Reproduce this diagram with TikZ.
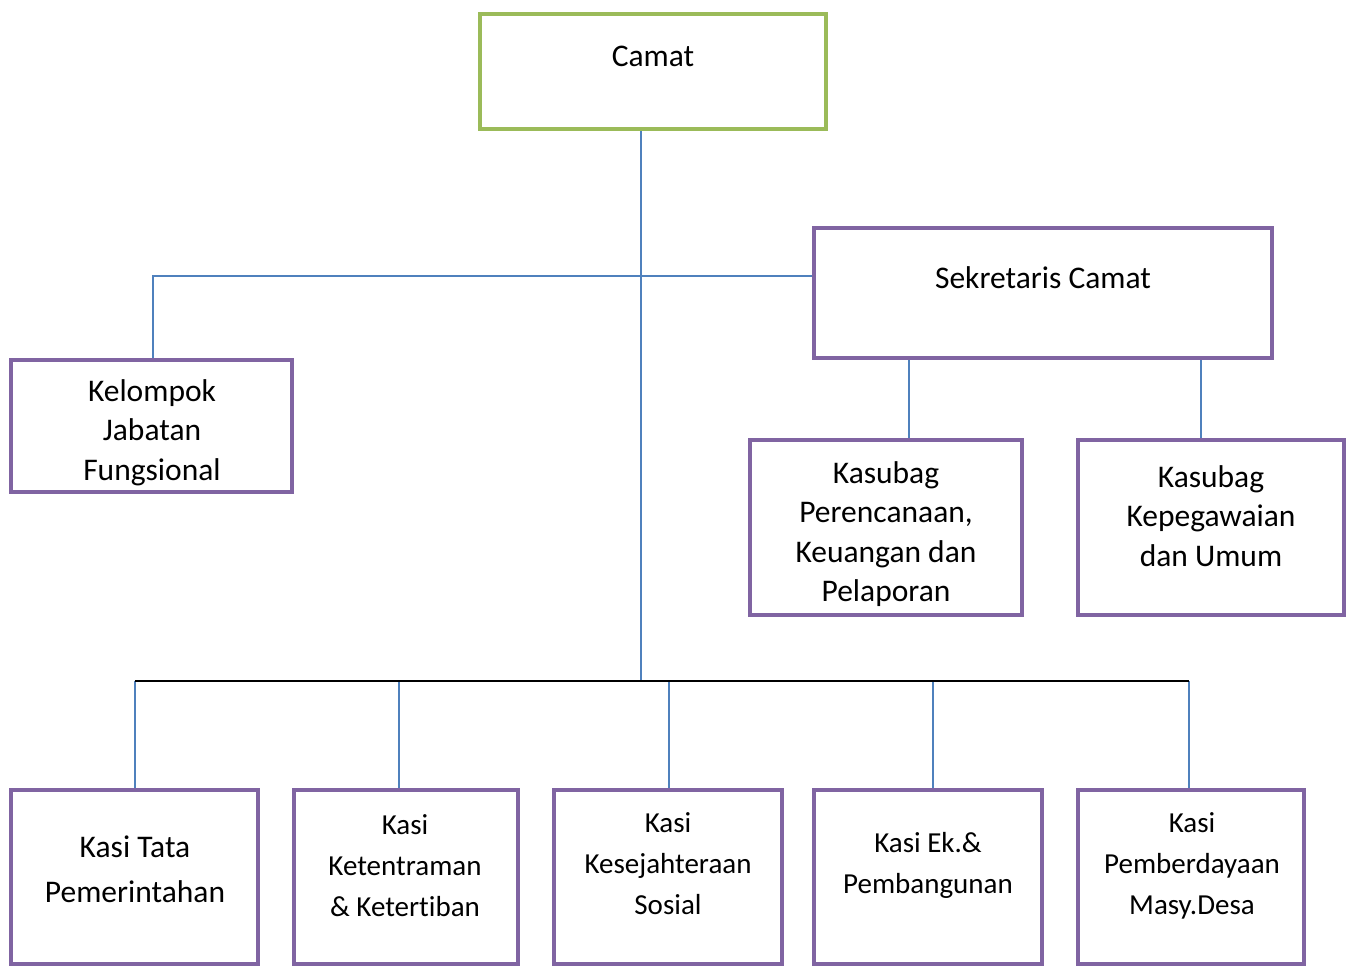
\documentclass[tikz,border=0pt]{standalone}
\usepackage{fontspec}
\setmainfont[Ligatures=NoCommon]{Carlito}
\definecolor{boxgreen}{HTML}{9BBB59}
\definecolor{boxpurple}{HTML}{8064A2}
\definecolor{linkblue}{HTML}{4F81BD}
\begin{document}
\begin{tikzpicture}[x=1pt,y=-1pt,
  box/.style={draw=boxpurple,line width=4pt,fill=white,inner sep=0pt},
  topbox/.style={box,draw=boxgreen},
  lbl/.style={align=center,inner sep=0pt,font=\fontsize{31.5}{39.5}\selectfont},
  lblsmall/.style={align=center,inner sep=0pt,font=\fontsize{29}{41}\selectfont},
  link/.style={draw=linkblue,line width=1.6pt},
  busline/.style={draw=black,line width=1.8pt}]
\useasboundingbox (0,0) rectangle (1352,968);
% boxes (centre-line of border)
\node[topbox,minimum width=346pt,minimum height=115pt] (camat) at (653,71.5) {};
\node[box,minimum width=458pt,minimum height=130pt] (sek) at (1043,293) {};
\node[box,minimum width=281pt,minimum height=132pt] (kel) at (151.5,426) {};
\node[box,minimum width=272pt,minimum height=175pt] (kper) at (886,527.5) {};
\node[box,minimum width=266pt,minimum height=175pt] (kpeg) at (1211,527.5) {};
\node[box,minimum width=247pt,minimum height=174pt] (k1) at (134.5,877) {};
\node[box,minimum width=224pt,minimum height=174pt] (k2) at (406,877) {};
\node[box,minimum width=228pt,minimum height=174pt] (k3) at (668,877) {};
\node[box,minimum width=228pt,minimum height=174pt] (k4) at (928,877) {};
\node[box,minimum width=226pt,minimum height=174pt] (k5) at (1191,877) {};
% texts
\node[lbl] (camatT) at (653,56) {Camat};
\node[lbl] (sekT) at (1043,278) {Sekretaris Camat};
\node[lbl] (kelT) at (152,432.5) {Kelompok\\Jabatan\\Fungsional};
\node[lbl] (kperT) at (886,534) {Kasubag\\Perencanaan,\\Keuangan dan\\Pelaporan};
\node[lbl] (kpegT) at (1211,516) {Kasubag\\Kepegawaian\\dan Umum};
\node[lbl,font=\fontsize{31.5}{45}\selectfont] (k1T) at (135,869.5) {Kasi Tata\\Pemerintahan};
\node[lblsmall] (k2T) at (405,866) {Kasi\\Ketentraman\\\& Ketertiban};
\node[lblsmall] (k3T) at (668,864) {Kasi\\Kesejahteraan\\Sosial};
\node[lblsmall] (k4T) at (928,865.5) {Kasi Ek.\&\\Pembangunan};
\node[lblsmall] (k5T) at (1192,866) {Kasi\\Pemberdayaan\\Masy.Desa};
% junction coordinates
\coordinate (bus) at (641,681);
\coordinate (kj) at (153,276);
\coordinate (j1) at (135,681);
\coordinate (j2) at (399,681);
\coordinate (j3) at (669,681);
\coordinate (j4) at (933,681);
\coordinate (j5) at (1189,681);
\coordinate (s1) at (909,0);
\coordinate (s2) at (1201,0);
% connectors
\path[link] (camat.south -| bus) -- (bus);
\path[link] (sek.west |- kj) -- (kj) -- (kel.north -| kj);
\path[link] (sek.south -| s1) -- (kper.north -| s1);
\path[link] (sek.south -| s2) -- (kpeg.north -| s2);
\path[link] (j1) -- (k1.north -| j1);
\path[link] (j2) -- (k2.north -| j2);
\path[link] (j3) -- (k3.north -| j3);
\path[link] (j4) -- (k4.north -| j4);
\path[link] (j5) -- (k5.north -| j5);
\path[busline] (j1) -- (j5);
\end{tikzpicture}
\end{document}
